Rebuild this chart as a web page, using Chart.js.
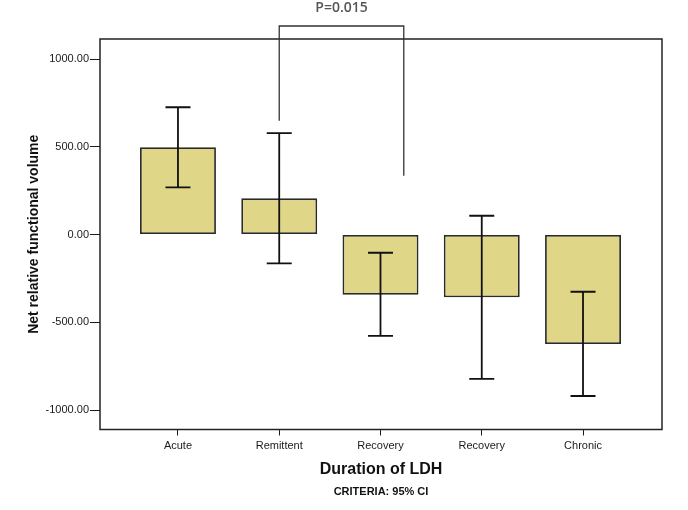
<!DOCTYPE html>
<html>
<head>
<meta charset="utf-8">
<script src="https://cdn.jsdelivr.net/npm/chart.js@4/dist/chart.umd.min.js"></script>
<style>
  html, body { margin: 0; padding: 0; background: #fff; }
  #wrap { width: 688px; height: 510px; }
</style>
</head>
<body>
<div id="wrap"><canvas id="c" width="688" height="510"></canvas></div>
<script>
// Mean net relative functional volume by LDH duration, with 95% CI.
const categories = ["Acute", "Remittent", "Recovery", "Recovery", "Chronic"];
const means   = [497, 206, -343, -358, -624];
const ciHigh  = [725, 578, -104, 107, -326];
const ciLow   = [269, -164, -578, -822, -920];
const yTicks  = [-1000, -500, 0, 500, 1000];

// significance bracket between Remittent and the first Recovery group
const bracket = { from: 1, to: 2.23, leftEnd: 648, rightEnd: 335, top: 1188, label: "P=0.015" };

const BAR = "#dfd787";
const INK = "#1a1a1a";
const SANS = "'Liberation Sans', Arial, sans-serif";

// frame round the plot area, as SPSS draws it
const framePlugin = {
  id: "frame",
  afterDraw(chart) {
    const { ctx, chartArea: a } = chart;
    ctx.save();
    ctx.strokeStyle = "#222";
    ctx.lineWidth = 1.5;
    ctx.strokeRect(a.left, a.top, a.right - a.left, a.bottom - a.top);
    ctx.restore();
  },
};

const errorBarPlugin = {
  id: "errorBars",
  afterDatasetsDraw(chart) {
    const { ctx, scales: { x, y } } = chart;
    ctx.save();
    ctx.strokeStyle = "#111";
    ctx.lineWidth = 1.8;
    means.forEach((_, i) => {
      const px = x.getPixelForValue(i);
      const hi = y.getPixelForValue(ciHigh[i]);
      const lo = y.getPixelForValue(ciLow[i]);
      ctx.beginPath();
      ctx.moveTo(px, hi); ctx.lineTo(px, lo);
      ctx.moveTo(px - 12.5, hi); ctx.lineTo(px + 12.5, hi);
      ctx.moveTo(px - 12.5, lo); ctx.lineTo(px + 12.5, lo);
      ctx.stroke();
    });
    ctx.restore();
  },
};

const annotationPlugin = {
  id: "notes",
  afterDraw(chart) {
    const { ctx, scales: { x, y }, chartArea: a } = chart;
    const x1 = x.getPixelForValue(bracket.from);
    const x2 = x.getPixelForValue(bracket.to);
    const yt = y.getPixelForValue(bracket.top);
    ctx.save();
    ctx.strokeStyle = "#333";
    ctx.lineWidth = 1.3;
    ctx.beginPath();
    ctx.moveTo(x1, y.getPixelForValue(bracket.leftEnd));
    ctx.lineTo(x1, yt);
    ctx.lineTo(x2, yt);
    ctx.lineTo(x2, y.getPixelForValue(bracket.rightEnd));
    ctx.stroke();

    ctx.fillStyle = "#555";
    ctx.font = "600 14px 'Open Sans', sans-serif";
    ctx.textAlign = "center";
    ctx.textBaseline = "middle";
    ctx.fillText(bracket.label, (x1 + x2) / 2, 8);

    ctx.fillStyle = "#111";
    ctx.font = "bold 11px " + SANS;
    ctx.fillText("CRITERIA: 95% CI", (a.left + a.right) / 2, 492);
    ctx.restore();
  },
};

new Chart(document.getElementById("c"), {
  type: "bar",
  data: {
    datasets: [{
      data: means.map((v, i) => ({ x: i, y: v })),
      backgroundColor: BAR,
      borderColor: "#2a2a2a",
      borderWidth: 1.8,
      borderSkipped: false,
      barPercentage: 0.75,
      categoryPercentage: 1,
    }],
  },
  options: {
    responsive: false,
    devicePixelRatio: 1,
    animation: false,
    layout: { padding: { top: 39, right: 26, left: 0, bottom: 0 } },
    plugins: { legend: { display: false }, tooltip: { enabled: false } },
    scales: {
      x: {
        type: "linear",
        min: -0.77,
        max: 4.78,
        offset: false,
        afterFit(s) { s.height = 80.5; },
        afterBuildTicks(s) { s.ticks = categories.map((_, i) => ({ value: i })); },
        grid: { offset: false, drawOnChartArea: false, drawTicks: true, tickLength: 6, color: INK },
        border: { display: false },
        ticks: {
          color: INK,
          padding: 4,
          autoSkip: false,
          maxRotation: 0,
          font: { family: SANS, size: 11 },
          callback(v) { return categories[v]; },
        },
        title: {
          display: true,
          text: "Duration of LDH",
          color: "#111",
          font: { family: SANS, size: 16, weight: "bold" },
          padding: { top: 0, bottom: 31 },
        },
      },
      y: {
        min: -1111,
        max: 1114,
        afterFit(s) { s.width = 100; },
        afterBuildTicks(s) { s.ticks = yTicks.map((v) => ({ value: v })); },
        grid: { drawOnChartArea: false, drawTicks: true, tickLength: 10, color: INK },
        border: { display: false },
        ticks: {
          color: INK,
          padding: 1,
          font: { family: SANS, size: 11 },
          callback(v) { return v.toFixed(2); },
        },
        title: {
          display: true,
          text: "Net relative functional volume",
          color: "#111",
          font: { family: SANS, size: 14, weight: "bold" },
          padding: { top: 25.6, bottom: 0 },
        },
      },
    },
  },
  plugins: [errorBarPlugin, framePlugin, annotationPlugin],
});
</script>
</body>
</html>
